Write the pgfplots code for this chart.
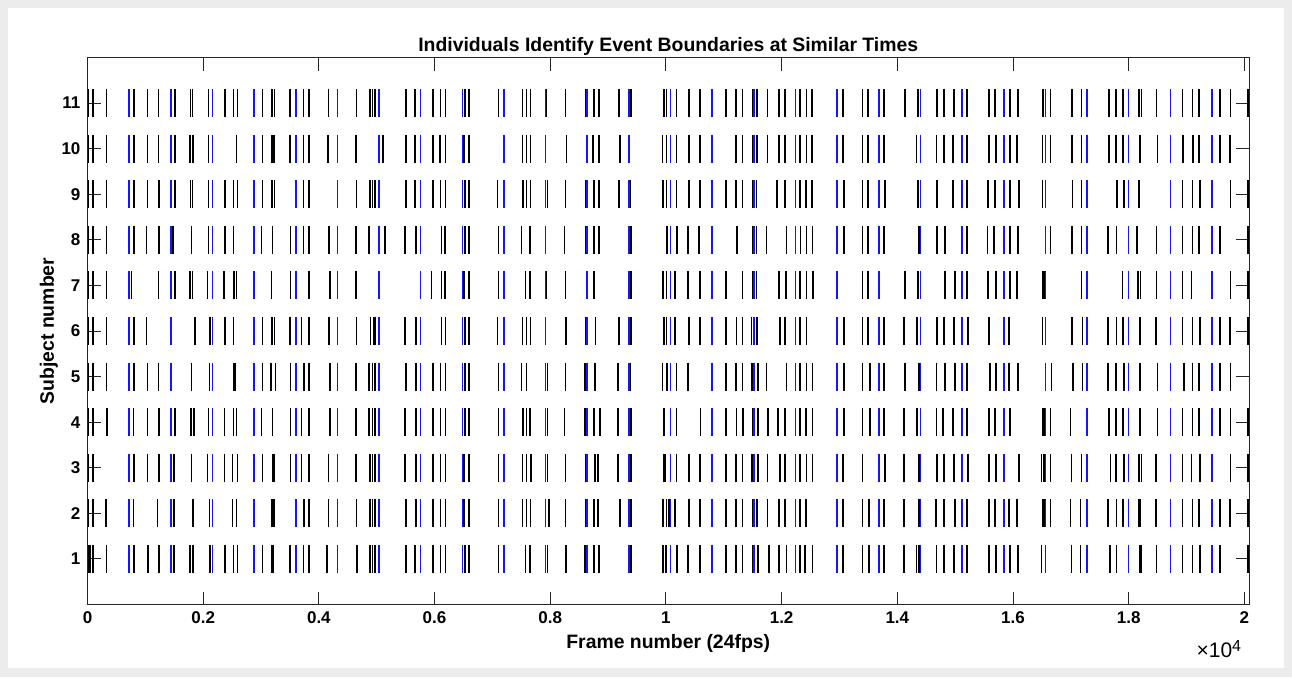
\documentclass[border=0pt]{standalone}
\usepackage{fontspec}
\setmainfont{Liberation Sans}
\usepackage{pgfplots}
\pgfplotsset{compat=1.18}
\definecolor{figgray}{RGB}{236,236,236}
\definecolor{axgray}{RGB}{38,38,38}
\definecolor{mblue}{RGB}{20,20,255}
\begin{document}
\begin{tikzpicture}
\fill[figgray] (-43.75pt,-36.25pt) rectangle (602.25pt,302.25pt);
\fill[white] (-39.75pt,-31.75pt) rectangle (598.25pt,298.25pt);
\begin{axis}[
  at={(0pt,0pt)}, anchor=south west,
  width=580.75pt, height=273.5pt, scale only axis,
  xmin=0, xmax=20080, ymin=0, ymax=12,
  xtick={0,2000,4000,6000,8000,10000,12000,14000,16000,18000,20000},
  xticklabels={0,0.2,0.4,0.6,0.8,1,1.2,1.4,1.6,1.8,2},
  ytick={1,2,3,4,5,6,7,8,9,10,11},
  yticklabels={1,2,3,4,5,6,7,8,9,10,11},
  scaled x ticks=false,
  tick align=inside,
  major tick length=6.5pt,
  axis line style={line width=0.5pt, axgray},
  every tick/.style={line width=0.5pt, axgray},
  tick label style={font=\fontsize{8.5}{10}\selectfont\bfseries, /pgf/number format/assume math mode=true},
  title={Individuals Identify Event Boundaries at Similar Times},
  title style={at={(axis description cs:0.5,1)}, anchor=base, yshift=-3.2pt, font=\fontsize{9.7}{11}\selectfont\bfseries},
  xlabel={Frame number (24fps)},
  xlabel style={at={(axis description cs:0.5,0)}, anchor=base, yshift=-22.2pt, font=\fontsize{9.7}{11}\selectfont\bfseries},
  ylabel={Subject number},
  ylabel style={at={(axis description cs:-0.0289,0.5)}, anchor=base, font=\fontsize{9.7}{11}\selectfont\bfseries},
  blk/.style={black, only marks, mark=|, mark size=7pt, mark options={line width=0.8pt}},
  blu/.style={mblue, only marks, mark=|, mark size=7pt, mark options={line width=0.8pt}},
]
% Subject 11
\addplot[blk] coordinates {(14,11)(100,11)(331,11)(803,11)(1034,11)(1230,11)(1512,11)(1783,11)(1818,11)(2094,11)(2376,11)(2521,11)(2590,11)(3028,11)(3189,11)(3235,11)(3500,11)(3731,11)(3834,11)(4168,11)(4653,11)(4883,11)(4929,11)(4975,11)(5505,11)(5661,11)(5978,11)(6105,11)(6191,11)(6525,11)(6600,11)(7102,11)(7522,11)(7592,11)(7661,11)(7937,11)(8266,11)(8606,11)(8755,11)(8842,11)(9193,11)(9401,11)(9965,11)(10012,11)(10184,11)(10398,11)(10588,11)(11037,11)(11210,11)(11325,11)(11498,11)(11579,11)(11757,11)(11953,11)(12063,11)(12316,11)(12432,11)(12530,11)(13065,11)(13399,11)(13497,11)(13768,11)(14131,11)(14361,11)(14690,11)(14805,11)(14978,11)(15208,11)(15589,11)(15687,11)(15946,11)(16090,11)(16522,11)(16649,11)(17023,11)(17185,11)(17663,11)(17778,11)(17905,11)(18182,11)(18222,11)(18481,11)(18931,11)(19103,11)(19219,11)(19576,11)(19760,11)(20066,11)};
% Subject 10
\addplot[blk] coordinates {(14,10)(100,10)(331,10)(803,10)(1034,10)(1230,10)(1512,10)(1771,10)(1829,10)(2094,10)(2578,10)(3028,10)(3189,10)(3223,10)(3500,10)(3731,10)(3834,10)(4157,10)(4641,10)(5113,10)(5505,10)(5661,10)(5978,10)(6093,10)(6191,10)(6508,10)(6600,10)(7522,10)(7592,10)(7661,10)(8283,10)(8744,10)(8842,10)(9205,10)(9942,10)(10012,10)(10184,10)(10398,10)(10588,10)(11210,10)(11325,10)(11510,10)(11579,10)(11757,10)(11953,10)(12063,10)(12316,10)(12432,10)(12530,10)(13065,10)(13399,10)(13497,10)(13768,10)(14333,10)(14678,10)(14805,10)(14966,10)(15208,10)(15589,10)(15704,10)(15946,10)(16073,10)(16511,10)(16649,10)(17023,10)(17185,10)(17663,10)(17778,10)(17905,10)(18193,10)(18499,10)(18942,10)(19115,10)(19219,10)(19576,10)(19749,10)};
% Subject 9
\addplot[blk] coordinates {(14,9)(100,9)(331,9)(803,9)(1034,9)(1241,9)(1512,9)(1783,9)(1818,9)(2094,9)(2376,9)(2521,9)(2590,9)(3028,9)(3189,9)(3235,9)(3731,9)(3834,9)(4653,9)(4883,9)(4929,9)(4975,9)(5505,9)(5661,9)(5978,9)(6105,9)(6191,9)(6525,9)(6600,9)(7090,9)(7534,9)(7592,9)(7661,9)(7949,9)(8266,9)(8617,9)(8755,9)(8842,9)(9188,9)(9389,9)(9954,9)(10012,9)(10184,9)(10398,9)(10588,9)(11037,9)(11210,9)(11325,9)(11498,9)(11567,9)(11925,9)(12063,9)(12316,9)(12420,9)(12530,9)(13077,9)(13399,9)(13497,9)(13785,9)(14361,9)(14690,9)(14966,9)(15208,9)(15571,9)(15687,9)(15946,9)(16101,9)(16511,9)(17029,9)(17185,9)(17801,9)(17917,9)(18182,9)(18931,9)(19103,9)(19230,9)(19760,9)(20066,9)};
% Subject 8
\addplot[blk] coordinates {(14,8)(100,8)(331,8)(803,8)(1022,8)(1241,8)(1483,8)(1800,8)(2094,8)(2376,8)(2521,8)(3010,8)(3200,8)(3512,8)(3731,8)(3834,8)(4180,8)(4641,8)(4871,8)(5142,8)(5488,8)(5678,8)(6122,8)(6180,8)(6525,8)(6600,8)(7102,8)(7505,8)(7649,8)(8243,8)(8617,8)(8755,8)(8842,8)(9401,8)(10023,8)(10196,8)(10386,8)(10576,8)(11233,8)(11498,8)(11567,8)(11740,8)(12086,8)(12328,8)(12432,8)(12535,8)(13077,8)(13399,8)(13497,8)(13768,8)(14379,8)(14690,8)(14822,8)(15208,8)(15560,8)(15675,8)(15946,8)(16090,8)(16649,8)(17023,8)(17185,8)(17646,8)(17790,8)(18147,8)(18481,8)(18931,8)(19103,8)(19219,8)(19576,8)(20066,8)};
% Subject 7
\addplot[blk] coordinates {(14,7)(100,7)(331,7)(763,7)(1230,7)(1512,7)(1771,7)(1818,7)(2077,7)(2359,7)(2532,7)(2578,7)(3183,7)(3512,7)(3834,7)(4192,7)(4641,7)(5949,7)(6122,7)(6180,7)(6508,7)(6600,7)(7102,7)(7574,7)(7649,7)(7937,7)(8266,7)(8755,7)(9401,7)(9954,7)(10012,7)(10156,7)(10386,7)(10588,7)(11037,7)(11325,7)(11510,7)(11567,7)(11959,7)(12074,7)(12316,7)(12432,7)(12547,7)(13399,7)(13497,7)(14131,7)(14361,7)(14822,7)(14995,7)(15208,7)(15571,7)(15704,7)(15946,7)(16073,7)(16511,7)(16534,7)(17185,7)(17894,7)(18164,7)(18205,7)(18481,7)(18931,7)(19086,7)(19760,7)(20066,7)};
% Subject 6
\addplot[blk] coordinates {(14,6)(100,6)(331,6)(803,6)(1022,6)(1858,6)(2117,6)(2376,6)(2521,6)(3028,6)(3189,6)(3235,6)(3500,6)(3702,6)(3834,6)(4180,6)(4653,6)(4894,6)(4941,6)(4975,6)(5488,6)(5678,6)(6122,6)(6191,6)(6525,6)(6600,6)(7090,6)(7522,6)(7592,6)(7661,6)(8271,6)(8617,6)(8784,6)(9188,6)(9401,6)(9965,6)(10012,6)(10156,6)(10398,6)(10588,6)(11037,6)(11222,6)(11325,6)(11481,6)(11579,6)(11971,6)(12063,6)(12316,6)(12432,6)(13077,6)(13399,6)(13497,6)(13768,6)(14114,6)(14344,6)(14690,6)(14805,6)(14978,6)(15226,6)(15589,6)(15929,6)(16511,6)(17023,6)(17202,6)(17646,6)(17790,6)(17905,6)(18193,6)(18470,6)(18931,6)(19103,6)(19230,6)(19576,6)(19749,6)(20066,6)};
% Subject 5
\addplot[blk] coordinates {(14,5)(100,5)(331,5)(803,5)(1034,5)(1230,5)(1800,5)(2106,5)(2532,5)(2561,5)(3028,5)(3172,5)(3252,5)(3512,5)(3742,5)(3834,5)(4192,5)(4641,5)(4871,5)(4929,5)(4975,5)(5505,5)(5678,5)(5978,5)(6105,5)(6191,5)(6525,5)(6600,5)(7102,5)(7505,5)(7592,5)(7949,5)(8266,5)(8600,5)(8773,5)(9176,5)(9389,5)(9942,5)(10023,5)(10184,5)(10386,5)(11037,5)(11210,5)(11325,5)(11481,5)(11510,5)(11596,5)(11740,5)(12086,5)(12316,5)(12432,5)(12535,5)(13077,5)(13399,5)(13526,5)(13768,5)(14131,5)(14379,5)(14678,5)(14822,5)(14995,5)(15208,5)(15600,5)(15704,5)(15929,5)(16090,5)(16666,5)(17041,5)(17202,5)(17646,5)(17778,5)(17917,5)(18193,5)(18499,5)(18954,5)(19103,5)(19219,5)(19576,5)(19760,5)};
% Subject 4
\addplot[blk] coordinates {(14,4)(100,4)(342,4)(792,4)(1034,4)(1241,4)(1512,4)(1789,4)(1841,4)(2094,4)(2365,4)(2521,4)(2578,4)(3010,4)(3200,4)(3512,4)(3702,4)(3834,4)(4192,4)(4641,4)(4871,4)(4929,4)(4975,4)(5488,4)(5678,4)(5978,4)(6105,4)(6191,4)(6525,4)(6600,4)(7102,4)(7534,4)(7592,4)(7649,4)(7949,4)(8243,4)(8600,4)(8755,4)(8859,4)(9176,4)(9401,4)(9965,4)(10184,4)(10599,4)(11037,4)(11222,4)(11337,4)(11498,4)(11596,4)(11769,4)(11942,4)(12057,4)(12316,4)(12420,4)(12535,4)(13077,4)(13399,4)(13526,4)(13768,4)(14114,4)(14344,4)(14678,4)(14794,4)(14966,4)(15208,4)(15589,4)(15687,4)(15946,4)(16511,4)(16534,4)(16649,4)(16995,4)(17663,4)(17778,4)(17905,4)(18193,4)(18499,4)(18931,4)(19103,4)(19219,4)(19576,4)(19760,4)(20066,4)};
% Subject 3
\addplot[blk] coordinates {(14,3)(100,3)(803,3)(1034,3)(1241,3)(1495,3)(1800,3)(2077,3)(2365,3)(2509,3)(2596,3)(3028,3)(3200,3)(3223,3)(3512,3)(3702,3)(3834,3)(4163,3)(4641,3)(4883,3)(4929,3)(4975,3)(5488,3)(5678,3)(5978,3)(6105,3)(6191,3)(6508,3)(6600,3)(7102,3)(7522,3)(7592,3)(7666,3)(7949,3)(8266,3)(8617,3)(8773,3)(8830,3)(9176,3)(9401,3)(9965,3)(9983,3)(10184,3)(10398,3)(10588,3)(11037,3)(11210,3)(11325,3)(11481,3)(11510,3)(11596,3)(11757,3)(11971,3)(12063,3)(12316,3)(12432,3)(12535,3)(13065,3)(13399,3)(13785,3)(14114,3)(14379,3)(14690,3)(14805,3)(14978,3)(15226,3)(15589,3)(15704,3)(16101,3)(16493,3)(16534,3)(16649,3)(17012,3)(17185,3)(17686,3)(17778,3)(17917,3)(18182,3)(18222,3)(18470,3)(18931,3)(19086,3)(19230,3)(19760,3)(20066,3)};
% Subject 2
\addplot[blk] coordinates {(14,2)(100,2)(319,2)(792,2)(1213,2)(1495,2)(1829,2)(2106,2)(2509,2)(2578,2)(3189,2)(3229,2)(3748,2)(3834,2)(4163,2)(4653,2)(4883,2)(4929,2)(4975,2)(5505,2)(5678,2)(5978,2)(6105,2)(6191,2)(6508,2)(6600,2)(7102,2)(7517,2)(7592,2)(7661,2)(7978,2)(8266,2)(8617,2)(8755,2)(8830,2)(9205,2)(9401,2)(9954,2)(10012,2)(10058,2)(10156,2)(10398,2)(10588,2)(11037,2)(11210,2)(11325,2)(11498,2)(11579,2)(11757,2)(11953,2)(12063,2)(12316,2)(12420,2)(13065,2)(13399,2)(13514,2)(13768,2)(14114,2)(14379,2)(14667,2)(14805,2)(14995,2)(15208,2)(15589,2)(15687,2)(15929,2)(16073,2)(16511,2)(16534,2)(16649,2)(16995,2)(17167,2)(17646,2)(17790,2)(17905,2)(18182,2)(18205,2)(18470,2)(18931,2)(19103,2)(19219,2)(19576,2)(19749,2)(20066,2)};
% Subject 1
\addplot[blk] coordinates {(26,1)(54,1)(100,1)(331,1)(803,1)(1051,1)(1241,1)(1495,1)(1771,1)(1829,1)(2117,1)(2376,1)(2521,1)(2590,1)(3028,1)(3183,1)(3212,1)(3500,1)(3731,1)(3834,1)(4145,1)(4664,1)(4883,1)(4929,1)(4975,1)(5505,1)(5661,1)(5978,1)(6105,1)(6191,1)(6525,1)(6600,1)(7102,1)(7574,1)(7649,1)(7949,1)(8271,1)(8600,1)(8755,1)(8842,1)(9401,1)(9954,1)(10000,1)(10196,1)(10386,1)(10588,1)(11037,1)(11210,1)(11325,1)(11498,1)(11596,1)(11781,1)(11953,1)(12086,1)(12316,1)(12403,1)(12535,1)(13065,1)(13399,1)(13514,1)(13768,1)(14114,1)(14333,1)(14379,1)(14678,1)(14805,1)(14978,1)(15208,1)(15589,1)(15704,1)(15946,1)(16090,1)(16493,1)(17012,1)(17167,1)(17675,1)(17790,1)(18193,1)(18222,1)(18481,1)(18931,1)(19103,1)(19230,1)(19576,1)(20066,1)};
% Blue boundaries (every 720 frames)
\addplot[blu] coordinates {(720,11)(1440,11)(2160,11)(2880,11)(3600,11)(4320,11)(5040,11)(5760,11)(6480,11)(7200,11)(7920,11)(8640,11)(9360,11)(10080,11)(10800,11)(11520,11)(12240,11)(12960,11)(13680,11)(14400,11)(15120,11)(15840,11)(16560,11)(17280,11)(18000,11)(18720,11)(19440,11)};
\addplot[blu] coordinates {(720,10)(1440,10)(2160,10)(2880,10)(3600,10)(4320,10)(5040,10)(5760,10)(6480,10)(7200,10)(7920,10)(8640,10)(9360,10)(10080,10)(10800,10)(11520,10)(12240,10)(12960,10)(13680,10)(14400,10)(15120,10)(15840,10)(16560,10)(17280,10)(18000,10)(18720,10)(19440,10)};
\addplot[blu] coordinates {(720,9)(1440,9)(2160,9)(2880,9)(3600,9)(4320,9)(5040,9)(5760,9)(6480,9)(7200,9)(7920,9)(8640,9)(9360,9)(10080,9)(10800,9)(11520,9)(12240,9)(12960,9)(13680,9)(14400,9)(15120,9)(15840,9)(16560,9)(17280,9)(18000,9)(18720,9)(19440,9)};
\addplot[blu] coordinates {(720,8)(1440,8)(2160,8)(2880,8)(3600,8)(4320,8)(5040,8)(5760,8)(6480,8)(7200,8)(7920,8)(8640,8)(9360,8)(10080,8)(10800,8)(11520,8)(12240,8)(12960,8)(13680,8)(14400,8)(15120,8)(15840,8)(16560,8)(17280,8)(18000,8)(18720,8)(19440,8)};
\addplot[blu] coordinates {(720,7)(1440,7)(2160,7)(2880,7)(3600,7)(4320,7)(5040,7)(5760,7)(6480,7)(7200,7)(7920,7)(8640,7)(9360,7)(10080,7)(10800,7)(11520,7)(12240,7)(12960,7)(13680,7)(14400,7)(15120,7)(15840,7)(16560,7)(17280,7)(18000,7)(18720,7)(19440,7)};
\addplot[blu] coordinates {(720,6)(1440,6)(2160,6)(2880,6)(3600,6)(4320,6)(5040,6)(5760,6)(6480,6)(7200,6)(7920,6)(8640,6)(9360,6)(10080,6)(10800,6)(11520,6)(12240,6)(12960,6)(13680,6)(14400,6)(15120,6)(15840,6)(16560,6)(17280,6)(18000,6)(18720,6)(19440,6)};
\addplot[blu] coordinates {(720,5)(1440,5)(2160,5)(2880,5)(3600,5)(4320,5)(5040,5)(5760,5)(6480,5)(7200,5)(7920,5)(8640,5)(9360,5)(10080,5)(10800,5)(11520,5)(12240,5)(12960,5)(13680,5)(14400,5)(15120,5)(15840,5)(16560,5)(17280,5)(18000,5)(18720,5)(19440,5)};
\addplot[blu] coordinates {(720,4)(1440,4)(2160,4)(2880,4)(3600,4)(4320,4)(5040,4)(5760,4)(6480,4)(7200,4)(7920,4)(8640,4)(9360,4)(10080,4)(10800,4)(11520,4)(12240,4)(12960,4)(13680,4)(14400,4)(15120,4)(15840,4)(16560,4)(17280,4)(18000,4)(18720,4)(19440,4)};
\addplot[blu] coordinates {(720,3)(1440,3)(2160,3)(2880,3)(3600,3)(4320,3)(5040,3)(5760,3)(6480,3)(7200,3)(7920,3)(8640,3)(9360,3)(10080,3)(10800,3)(11520,3)(12240,3)(12960,3)(13680,3)(14400,3)(15120,3)(15840,3)(16560,3)(17280,3)(18000,3)(18720,3)(19440,3)};
\addplot[blu] coordinates {(720,2)(1440,2)(2160,2)(2880,2)(3600,2)(4320,2)(5040,2)(5760,2)(6480,2)(7200,2)(7920,2)(8640,2)(9360,2)(10080,2)(10800,2)(11520,2)(12240,2)(12960,2)(13680,2)(14400,2)(15120,2)(15840,2)(16560,2)(17280,2)(18000,2)(18720,2)(19440,2)};
\addplot[blu] coordinates {(720,1)(1440,1)(2160,1)(2880,1)(3600,1)(4320,1)(5040,1)(5760,1)(6480,1)(7200,1)(7920,1)(8640,1)(9360,1)(10080,1)(10800,1)(11520,1)(12240,1)(12960,1)(13680,1)(14400,1)(15120,1)(15840,1)(16560,1)(17280,1)(18000,1)(18720,1)(19440,1)};
\end{axis}
\node[anchor=base east, font=\fontsize{10.5}{12}\selectfont, inner sep=0pt] at (577pt,-26.5pt) {×10\raisebox{0.55ex}{\fontsize{8}{9}\selectfont 4}};
\pgfresetboundingbox
\path[use as bounding box] (-43.75pt,-36.25pt) rectangle (602.25pt,302.25pt);
\end{tikzpicture}
\end{document}
